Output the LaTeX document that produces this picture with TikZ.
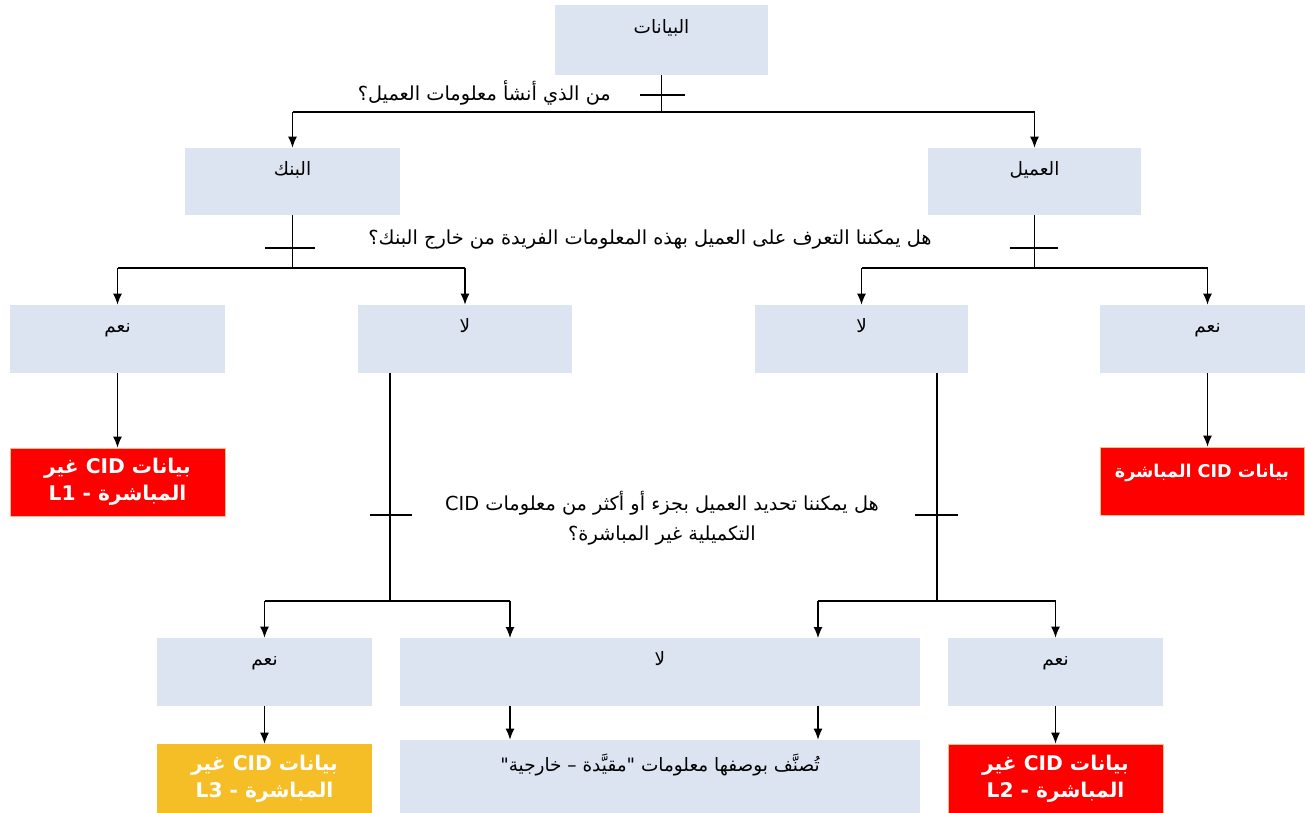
\documentclass[tikz,border=0pt]{standalone}
\usepackage{fontspec}
\setmainfont{Liberation Sans}
\newfontfamily\arabicfont[Script=Arabic]{DejaVu Sans}
\TeXXeTstate=1
\usetikzlibrary{arrows.meta}
\definecolor{boxblue}{RGB}{219,228,240}
\definecolor{boxred}{RGB}{255,0,0}
\definecolor{boxedge}{RGB}{247,190,140}
\definecolor{boxyellow}{RGB}{246,190,38}
\newcommand{\artext}[1]{{\arabicfont\beginR #1\endR}}
\begin{document}
\begin{tikzpicture}[x=0.02cm,y=-0.02cm,
  box/.style={fill=boxblue, inner xsep=2pt, inner ysep=0pt, minimum width=4.3cm,
    minimum height=1.36cm, text height=0.55cm, text depth=0.81cm, font=\fontsize{10.5}{12}\selectfont},
  result/.style={fill=boxred, draw=boxedge, text=white, minimum width=4.3cm,
    minimum height=1.36cm, align=center, font=\fontsize{11.5}{15.5}\selectfont\bfseries},
  link/.style={line width=0.7pt},
  arrowlink/.style={link, -{Latex[length=2.2mm,width=1.8mm]}},
  tick/.style={line width=0.7pt},
  question/.style={font=\fontsize{11}{17}\selectfont, align=center}]
\useasboundingbox (0,0) rectangle (1305,813);

% boxes
\node[box, minimum width=4.26cm, minimum height=1.4cm, text height=0.57cm, text depth=0.83cm] (data) at (661.5,40) {\artext{البيانات}};
\node[box, minimum height=1.34cm, text depth=0.79cm] (bank) at (292.5,181.5) {\artext{البنك}};
\node[box, minimum width=4.26cm, minimum height=1.34cm, text depth=0.79cm] (client) at (1034.5,181.5) {\artext{العميل}};

\node[box] (yes1) at (117.5,339) {\artext{نعم}};
\node[box] (no1) at (465,339) {\artext{لا}};
\node[box, minimum width=4.26cm] (no2) at (861.5,339) {\artext{لا}};
\node[box] (yes2) at (1207.5,339) {\artext{نعم}};

\node[result] (L1) at (117.5,482) {\artext{بيانات CID غير}\\\artext{المباشرة - L1}};
\node[result, minimum width=4.08cm, text height=0.62cm, text depth=0.74cm, inner ysep=0pt,
  font=\fontsize{10}{14}\selectfont\bfseries] (direct) at (1202,481) {\artext{بيانات CID المباشرة}};

\node[box] (yes3) at (264.5,672) {\artext{نعم}};
\node[box, minimum width=10.4cm] (no3) at (660,672) {\artext{لا}};
\node[box] (yes4) at (1055.5,672) {\artext{نعم}};

\node[result, fill=boxyellow, draw=none, minimum height=1.4cm] (L3) at (264.5,779) {\artext{بيانات CID غير}\\\artext{المباشرة - L3}};
\node[box, minimum width=10.4cm, minimum height=1.46cm, text height=0.62cm, text depth=0.84cm] (cls) at (660,776.5) {\artext{تُصنَّف بوصفها معلومات "مقيَّدة – خارجية"}};
\node[result, minimum height=1.4cm] (L2) at (1055.5,779) {\artext{بيانات CID غير}\\\artext{المباشرة - L2}};

% questions
\node[question, anchor=east] (q1) at (617,93) {\artext{من الذي أنشأ معلومات العميل؟}};
\node[question] (q2) at (650,240) {\artext{هل يمكننا التعرف على العميل بهذه المعلومات الفريدة من خارج البنك؟}};
\node[question] (q3) at (662,518) {\artext{هل يمكننا تحديد العميل بجزء أو أكثر من معلومات CID}\\\artext{التكميلية غير المباشرة؟}};

% first split
\coordinate (topbus) at (661.5,112);
\draw[link] (data.south) -- (topbus);
\draw[link] (bank.north |- topbus) -- (client.north |- topbus);
\draw[arrowlink] (bank.north |- topbus) -- (bank.north);
\draw[arrowlink] (client.north |- topbus) -- (client.north);
\draw[tick] (640,95) -- (685,95);

% bank split
\coordinate (bankbus) at (292.5,268);
\draw[link] (bank.south) -- (bankbus);
\draw[link] (yes1.north |- bankbus) -- (no1.north |- bankbus);
\draw[arrowlink] (yes1.north |- bankbus) -- (yes1.north);
\draw[arrowlink] (no1.north |- bankbus) -- (no1.north);
\draw[tick] (265,248) -- (315,248);

% client split
\coordinate (clientbus) at (1034.5,268);
\draw[link] (client.south) -- (clientbus);
\draw[link] (no2.north |- clientbus) -- (yes2.north |- clientbus);
\draw[arrowlink] (no2.north |- clientbus) -- (no2.north);
\draw[arrowlink] (yes2.north |- clientbus) -- (yes2.north);
\draw[tick] (1010,248) -- (1058,248);

\draw[arrowlink] (yes1.south) -- (L1.north);
\draw[arrowlink] (yes2.south) -- (yes2.south |- direct.north);

% lower splits
\coordinate (lowbusL) at (390,601);
\coordinate (lowbusR) at (937,601);
\coordinate (inL) at (510,638);
\coordinate (inR) at (818,638);
\draw[link] (no1.south -| lowbusL) -- (lowbusL);
\draw[link] (yes3.north |- lowbusL) -- (inL |- lowbusL);
\draw[arrowlink] (yes3.north |- lowbusL) -- (yes3.north);
\draw[arrowlink] (inL |- lowbusL) -- (inL);
\draw[tick] (370,515) -- (412,515);

\draw[link] (no2.south -| lowbusR) -- (lowbusR);
\draw[link] (inR |- lowbusR) -- (yes4.north |- lowbusR);
\draw[arrowlink] (inR |- lowbusR) -- (inR);
\draw[arrowlink] (yes4.north |- lowbusR) -- (yes4.north);
\draw[tick] (915,515) -- (958,515);

\draw[arrowlink] (yes3.south) -- (L3.north);
\draw[arrowlink] (inL |- no3.south) -- (inL |- cls.north);
\draw[arrowlink] (inR |- no3.south) -- (inR |- cls.north);
\draw[arrowlink] (yes4.south) -- (L2.north);
\end{tikzpicture}
\end{document}
